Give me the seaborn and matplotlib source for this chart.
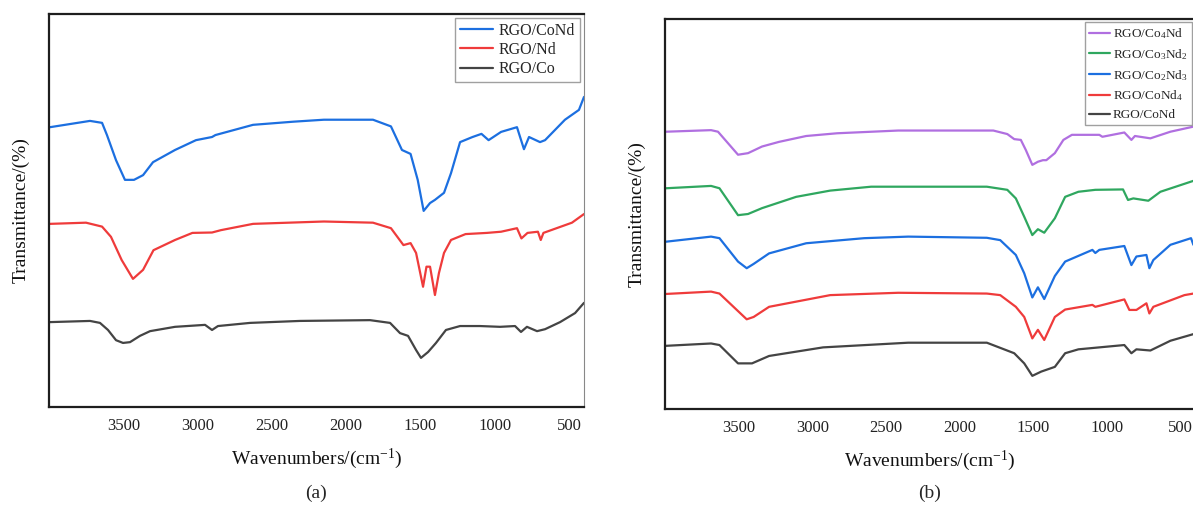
import numpy as np
import pandas as pd
import matplotlib
matplotlib.use("Agg")
import matplotlib.pyplot as plt
import seaborn as sns
from matplotlib.ticker import MultipleLocator

# ---------------- FTIR spectra, panel (a) ----------------
wn_a_cond = [3993, 3724, 3643, 3610, 3549, 3489, 3428, 3367, 3300, 3152, 3011, 2903, 2880,
             2627, 2355, 2150, 1820, 1699, 1625, 1567, 1519, 1479, 1436, 1403, 1342, 1295,
             1234, 1150, 1090, 1042, 958, 851, 804, 770, 696, 662, 528, 434, 400]
tr_a_cond = [71.2, 72.8, 72.3, 69.2, 62.8, 57.8, 57.8, 59.0, 62.3, 65.4, 67.9, 68.7, 69.2,
             71.8, 72.6, 73.1, 73.1, 71.4, 65.4, 64.4, 57.8, 49.9, 51.9, 52.7, 54.5, 59.5,
             67.4, 68.7, 69.5, 67.9, 70.0, 71.2, 65.6, 68.7, 67.4, 67.9, 73.1, 75.6, 78.9]

wn_a_nd = [3993, 3751, 3643, 3583, 3511, 3435, 3367, 3297, 3152, 3035, 2903, 2843, 2627,
           2150, 1820, 1699, 1615, 1567, 1530, 1483, 1460, 1436, 1403, 1376, 1342, 1295,
           1197, 1053, 958, 851, 821, 780, 710, 691, 673, 481, 400]
tr_a_nd = [46.6, 46.9, 45.9, 43.3, 37.4, 32.6, 34.9, 39.9, 42.5, 44.3, 44.4, 45.0, 46.6,
           47.2, 46.9, 45.5, 41.2, 41.7, 39.2, 30.6, 35.7, 35.7, 28.5, 34.1, 39.2, 42.5,
           44.0, 44.3, 44.6, 45.5, 42.9, 44.3, 44.6, 42.5, 44.3, 46.9, 49.1]

wn_a_co = [3993, 3724, 3657, 3603, 3549, 3502, 3455, 3388, 3320, 3152, 2950, 2903, 2863,
           2647, 2311, 1840, 1705, 1638, 1584, 1530, 1497, 1449, 1396, 1329, 1234, 1100,
           965, 864, 824, 784, 716, 662, 561, 460, 400]
tr_a_co = [21.6, 21.9, 21.4, 19.6, 17.0, 16.3, 16.5, 18.1, 19.3, 20.4, 20.9, 19.6, 20.6,
           21.4, 21.9, 22.1, 21.4, 18.8, 18.1, 14.5, 12.5, 14.0, 16.3, 19.6, 20.6, 20.6,
           20.4, 20.6, 19.1, 20.4, 19.3, 19.8, 21.6, 23.9, 26.5]

# ---------------- FTIR spectra, panel (b) ----------------
wn_b_co4nd = [3993, 3687, 3640, 3504, 3436, 3341, 3225, 3041, 2831, 2416, 1770, 1675, 1628,
              1583, 1549, 1505, 1467, 1433, 1410, 1352, 1294, 1236, 1050, 1029, 880, 832,
              808, 703, 567, 411]
tr_b_co4nd = [71.1, 71.5, 71.1, 65.2, 65.6, 67.3, 68.5, 70.0, 70.7, 71.4, 71.4, 70.5, 69.2,
              69.0, 66.4, 62.6, 63.4, 63.8, 63.8, 65.6, 69.0, 70.3, 70.3, 69.8, 70.9, 69.0,
              70.0, 69.4, 71.1, 72.4]

wn_b_co3nd2 = [3993, 3687, 3630, 3504, 3436, 3341, 3109, 2878, 2600, 1814, 1675, 1617, 1560,
               1505, 1467, 1424, 1352, 1282, 1192, 1077, 889, 855, 819, 717, 635, 499, 411]
tr_b_co3nd2 = [56.6, 57.2, 56.6, 49.7, 50.0, 51.5, 54.4, 56.0, 57.0, 57.0, 56.2, 54.0, 49.3,
               44.6, 46.1, 45.2, 48.9, 54.4, 55.7, 56.2, 56.3, 53.6, 54.0, 53.4, 55.7, 57.4,
               58.5]

wn_b_co2nd3 = [3993, 3687, 3630, 3504, 3445, 3398, 3293, 3041, 2647, 2348, 1814, 1723, 1617,
               1560, 1505, 1467, 1424, 1352, 1282, 1097, 1077, 1050, 880, 832, 798, 730,
               710, 683, 567, 427, 411]
tr_b_co2nd3 = [42.9, 44.2, 43.8, 37.8, 36.1, 37.2, 39.9, 42.5, 43.8, 44.2, 43.9, 43.3, 39.5,
               34.8, 28.6, 31.2, 28.2, 34.1, 37.8, 40.8, 40.0, 40.8, 41.8, 36.9, 39.1, 39.5,
               36.1, 38.2, 42.1, 43.8, 42.1]

wn_b_cond4 = [3993, 3687, 3630, 3445, 3398, 3293, 2878, 2416, 1814, 1723, 1617, 1560, 1505,
              1467, 1424, 1352, 1282, 1097, 1077, 880, 846, 798, 730, 710, 683, 472, 411]
tr_b_cond4 = [29.5, 30.1, 29.6, 23.0, 23.6, 26.2, 29.2, 29.8, 29.6, 29.2, 26.2, 23.6, 18.1,
              20.3, 17.7, 23.6, 25.5, 26.7, 26.2, 28.1, 25.4, 25.4, 27.1, 24.5, 26.2, 29.2,
              29.6]

wn_b_cond = [3993, 3687, 3630, 3504, 3409, 3293, 2926, 2348, 1814, 1628, 1560, 1505, 1444,
             1352, 1282, 1192, 880, 832, 798, 703, 567, 411]
tr_b_cond = [16.2, 16.8, 16.4, 11.7, 11.7, 13.6, 15.8, 17.0, 17.0, 14.3, 11.7, 8.5, 9.6,
             10.8, 14.3, 15.3, 16.4, 14.3, 15.3, 15.0, 17.5, 19.2]

labels_a = ["RGO/CoNd", "RGO/Nd", "RGO/Co"]
labels_b = ["RGO/Co$_4$Nd", "RGO/Co$_3$Nd$_2$", "RGO/Co$_2$Nd$_3$", "RGO/CoNd$_4$", "RGO/CoNd"]
colors_a = ["#1c6fe0", "#ef3b3b", "#444444"]
colors_b = ["#b06fe0", "#2fa75f", "#1c6fe0", "#ef3b3b", "#444444"]
xticks = [3500, 3000, 2500, 2000, 1500, 1000, 500]


def long_frame(series, labels):
    parts = []
    for (wn, tr), lab in zip(series, labels):
        parts.append(pd.DataFrame({"wn": wn, "tr": tr, "sample": lab}))
    return pd.concat(parts, ignore_index=True)


df_a = long_frame([(wn_a_cond, tr_a_cond), (wn_a_nd, tr_a_nd), (wn_a_co, tr_a_co)], labels_a)
df_b = long_frame([(wn_b_co4nd, tr_b_co4nd), (wn_b_co3nd2, tr_b_co3nd2),
                   (wn_b_co2nd3, tr_b_co2nd3), (wn_b_cond4, tr_b_cond4),
                   (wn_b_cond, tr_b_cond)], labels_b)

sns.set_style("white")
plt.rcParams["font.family"] = ["Liberation Serif", "DejaVu Serif"]
plt.rcParams["mathtext.fontset"] = "custom"
plt.rcParams["mathtext.rm"] = "Liberation Serif"
plt.rcParams["mathtext.it"] = "Liberation Serif:italic"

W, H = 1193, 505
fig = plt.figure(figsize=(W / 100, H / 100), dpi=100)
ax_a = fig.add_axes([49 / W, (H - 407) / H, 535 / W, 393 / H])
ax_b = fig.add_axes([665 / W, (H - 409) / H, 530 / W, 390 / H])


def style_axis(ax, right_visible=True):
    ax.set_xlim(4000, 400)
    ax.set_ylim(0, 100)
    ax.xaxis.set_major_locator(MultipleLocator(500))
    ax.xaxis.set_minor_locator(MultipleLocator(250))
    ax.set_xticks(xticks)
    ax.set_yticks([])
    ax.tick_params(axis="x", which="major", direction="in", length=6, width=1.3,
                   labelsize=12, pad=8, colors="#222222", labelcolor="#222222")
    ax.tick_params(axis="x", which="minor", direction="in", length=3.5, width=1.1,
                   colors="#222222")
    for side in ["left", "bottom", "top"]:
        ax.spines[side].set_color("#1e1e1e")
        ax.spines[side].set_linewidth(1.6)
    ax.spines["right"].set_color("#888888")
    ax.spines["right"].set_linewidth(0.8)
    ax.spines["right"].set_visible(right_visible)
    ax.set_ylabel("Transmittance/(%)", fontsize=14, labelpad=14, color="#111111")
    ax.set_xlabel("Wavenumbers/(cm$^{-1}$)", fontsize=14, labelpad=9, color="#111111")


sns.lineplot(data=df_a, x="wn", y="tr", hue="sample", hue_order=labels_a,
             palette=colors_a, sort=False, estimator=None, linewidth=1.6, ax=ax_a)
sns.lineplot(data=df_b, x="wn", y="tr", hue="sample", hue_order=labels_b,
             palette=colors_b, sort=False, estimator=None, linewidth=1.6, ax=ax_b)

style_axis(ax_a)
style_axis(ax_b, right_visible=False)

leg_a = ax_a.legend(loc="upper right", fontsize=11.5, frameon=True, fancybox=False,
                    edgecolor="#888888", borderaxespad=0.25, handlelength=2.1,
                    handletextpad=0.35, labelspacing=0.2, borderpad=0.3)
leg_a.get_frame().set_linewidth(1.0)

leg_b = ax_b.legend(loc="upper right", fontsize=9.5, frameon=True, fancybox=False,
                    edgecolor="#888888", borderaxespad=0.25, handlelength=1.6,
                    handletextpad=0.2, labelspacing=0.45, borderpad=0.3)
leg_b.get_frame().set_linewidth(1.0)

fig.text(0.5 * (49 + 584) / W, 1 - 493 / H, "(a)", ha="center", va="center", fontsize=14)
fig.text(0.5 * (665 + 1195) / W, 1 - 493 / H, "(b)", ha="center", va="center", fontsize=14)

fig.savefig("out.png", dpi=100)
